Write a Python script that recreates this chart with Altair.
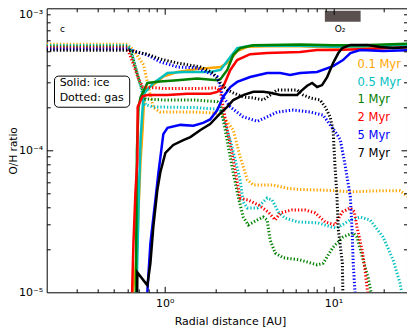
import altair as alt
import pandas as pd

# ---------------- data ----------------
times = ["0.1 Myr", "0.5 Myr", "1 Myr", "2 Myr", "5 Myr", "7 Myr"]
colors = ["#ffa500", "#00bfbf", "#008000", "#ff0000", "#0000ff", "#000000"]

# ice (solid lines)
ice_01_x = [0.64, 0.67, 0.69, 0.70, 0.72, 0.74, 0.76, 0.80, 0.86, 0.98, 1.19, 1.56, 2.0, 2.14, 2.35, 2.55, 2.69, 3.09, 4.05, 6.35, 10, 15, 20, 30]
ice_01_y = [9e-6, 1.4e-5, 2.2e-5, 3.8e-5, 8.5e-5, 1.4e-4, 2.6e-4, 2.75e-4, 2.9e-4, 3.3e-4, 3.56e-4, 3.74e-4, 3.83e-4, 3.86e-4, 4.12e-4, 4.6e-4, 5.0e-4, 5.35e-4, 5.4e-4, 5.4e-4, 5.3e-4, 5.35e-4, 5.4e-4, 5.5e-4]

ice_05_x = [0.68, 0.70, 0.72, 0.75, 0.86, 1.04, 1.29, 1.86, 2.14, 2.45, 2.69, 3.2, 4.0, 6.35, 10, 15, 20, 30]
ice_05_y = [9e-6, 4e-5, 1.2e-4, 2.5e-4, 2.98e-4, 3.5e-4, 3.56e-4, 3.56e-4, 3.68e-4, 4.54e-4, 5.25e-4, 5.45e-4, 5.45e-4, 5.45e-4, 5.35e-4, 5.4e-4, 5.45e-4, 5.5e-4]

ice_1_x = [0.675, 0.685, 0.70, 0.72, 0.79, 0.94, 1.19, 1.56, 2.05, 2.14, 2.35, 2.55, 2.8, 3.35, 6.35, 10, 15, 20, 30]
ice_1_y = [9e-6, 1e-4, 2.02e-4, 2.37e-4, 2.98e-4, 3.05e-4, 3.12e-4, 3.2e-4, 3.12e-4, 3.17e-4, 3.68e-4, 4.69e-4, 5.25e-4, 5.5e-4, 5.55e-4, 5.5e-4, 5.5e-4, 5.55e-4, 5.65e-4]

ice_2_x = [0.64, 0.653, 0.671, 0.689, 0.692, 0.74, 0.79, 1.04, 1.36, 1.86, 2.05, 2.22, 2.45, 2.69, 3.21, 4.05, 6.35, 8.0, 10, 15.9, 30]
ice_2_y = [9e-6, 2.2e-5, 5e-5, 8.55e-5, 2.02e-4, 2.4e-4, 2.45e-4, 2.45e-4, 2.5e-4, 2.5e-4, 2.58e-4, 2.79e-4, 3.68e-4, 4.32e-4, 4.75e-4, 4.84e-4, 4.92e-4, 5.09e-4, 5.09e-4, 5.16e-4, 5.34e-4]

ice_5_x = [0.785, 0.823, 0.881, 0.918, 0.982, 1.04, 1.24, 1.48, 1.69, 1.86, 2.05, 2.22, 2.45, 2.69, 3.21, 4.05, 4.84, 5.54, 6.35, 8.0, 9.96, 11.4, 12.6, 14.4, 19.7, 30]
ice_5_y = [9e-6, 2.2e-5, 4.46e-5, 6.9e-5, 1.3e-4, 1.44e-4, 1.51e-4, 1.49e-4, 1.56e-4, 1.65e-4, 1.92e-4, 2.37e-4, 2.79e-4, 3.03e-4, 3.28e-4, 3.5e-4, 3.5e-4, 3.39e-4, 3.5e-4, 3.56e-4, 3.92e-4, 4.32e-4, 4.84e-4, 5.09e-4, 5.0e-4, 5.09e-4]

ice_7_x = [0.687, 0.689, 0.79, 0.823, 0.857, 0.905, 0.943, 1.01, 1.125, 1.29, 1.42, 1.63, 1.86, 2.14, 2.35, 2.55, 2.92, 3.35, 3.84, 4.22, 4.84, 6.1, 6.35, 6.99, 7.48, 8.01, 8.57, 9.18, 9.96, 10.7, 11.3, 12.6, 15.9, 18.9, 22.6, 30]
ice_7_y = [9e-6, 1.38e-5, 1.12e-5, 1.6e-5, 2.9e-5, 5.25e-5, 7e-5, 9.6e-5, 1.09e-4, 1.18e-4, 1.24e-4, 1.39e-4, 1.53e-4, 1.83e-4, 2.02e-4, 2.26e-4, 2.45e-4, 2.58e-4, 2.58e-4, 2.54e-4, 2.45e-4, 2.45e-4, 2.58e-4, 2.85e-4, 2.98e-4, 2.79e-4, 2.88e-4, 3.28e-4, 4.12e-4, 4.84e-4, 5.25e-4, 5.52e-4, 5.52e-4, 5.34e-4, 5.25e-4, 5.34e-4]

# gas (dotted lines)
gas_01_x = [0.2, 0.6, 0.653, 0.75, 0.79, 0.857, 0.94, 1.5, 2.0, 2.2, 2.55, 2.8, 3.09, 3.35, 4.4, 5.3, 6.35, 8.3, 10, 12.6, 16, 20, 24.8, 28.4, 30]
gas_01_y = [5.58e-4, 5.58e-4, 5.1e-4, 4.0e-4, 3.0e-4, 2.0e-4, 1.86e-4, 1.86e-4, 1.83e-4, 1.75e-4, 1.39e-4, 9e-5, 6.2e-5, 5.7e-5, 5.7e-5, 5.4e-5, 5.3e-5, 5.25e-5, 5.2e-5, 5.1e-5, 5.15e-5, 5.2e-5, 5.2e-5, 4.6e-5, 4.25e-5]

gas_05_x = [0.2, 0.6, 0.63, 0.7, 0.77, 0.85, 1.5, 2.05, 2.14, 2.45, 2.8, 2.92, 3.09, 3.54, 4.05, 4.34, 4.71, 5.17, 6.17, 8.1, 9.8, 10.5, 12.6, 14.4, 16.5, 19.7, 22.6, 24.8, 25.8]
gas_05_y = [5.48e-4, 5.48e-4, 5.2e-4, 3.2e-4, 2.1e-4, 2.02e-4, 2.0e-4, 1.95e-4, 1.9e-4, 1.18e-4, 6.2e-5, 4.32e-5, 3.93e-5, 3.93e-5, 4.61e-5, 4.46e-5, 3.68e-5, 3.33e-5, 3.13e-5, 3.08e-5, 2.88e-5, 2.84e-5, 3.23e-5, 3.39e-5, 3.23e-5, 2.45e-5, 1.69e-5, 1.16e-5, 9e-6]

gas_1_x = [0.2, 0.6, 0.63, 0.7, 0.77, 1.0, 1.5, 2.05, 2.14, 2.55, 2.73, 2.92, 3.13, 3.54, 3.84, 4.05, 4.22, 4.52, 5.04, 6.35, 8.01, 8.69, 9.96, 11.4, 13.1, 13.8, 15.0, 16.1, 17.0]
gas_1_y = [5.37e-4, 5.37e-4, 5.0e-4, 3.2e-4, 2.3e-4, 2.26e-4, 2.26e-4, 2.2e-4, 2.1e-4, 6.92e-5, 4.69e-5, 3.39e-5, 2.98e-5, 3.23e-5, 3.39e-5, 3.23e-5, 2.33e-5, 1.89e-5, 1.75e-5, 1.69e-5, 1.56e-5, 1.6e-5, 2.08e-5, 2.45e-5, 2.62e-5, 2.45e-5, 1.69e-5, 1.25e-5, 9e-6]

gas_2_x = [0.2, 0.6, 0.64, 0.7, 0.74, 1.0, 1.5, 2.05, 2.14, 2.35, 2.5, 2.69, 2.8, 3.13, 3.6, 4.11, 4.52, 4.84, 5.66, 6.8, 7.8, 8.93, 10.2, 11.3, 12.6, 13.3, 13.8, 14.8, 15.4, 16.1]
gas_2_y = [5.27e-4, 5.27e-4, 4.3e-4, 3.2e-4, 2.8e-4, 2.72e-4, 2.72e-4, 2.75e-4, 2.58e-4, 1.39e-4, 9.8e-5, 6e-5, 4.6e-5, 4.46e-5, 4.12e-5, 3.68e-5, 3.23e-5, 3.62e-5, 3.8e-5, 3.8e-5, 3.62e-5, 3.13e-5, 2.98e-5, 3.68e-5, 3.93e-5, 3.7e-5, 2.88e-5, 1.98e-5, 1.44e-5, 9e-6]

gas_5_x = [0.2, 0.6, 0.79, 0.94, 1.19, 1.56, 2.05, 2.22, 2.45, 2.92, 3.54, 4.05, 4.64, 5.78, 7.28, 8.69, 9.56, 10.5, 11.0, 11.7, 12.6, 12.9, 13.1, 13.5]
gas_5_y = [5.17e-4, 5.17e-4, 4.69e-4, 4.2e-4, 3.86e-4, 3.8e-4, 3.3e-4, 2.37e-4, 2.02e-4, 1.72e-4, 1.6e-4, 1.72e-4, 1.86e-4, 1.92e-4, 1.86e-4, 1.77e-4, 1.51e-4, 1.3e-4, 1.18e-4, 8e-5, 4.7e-5, 2.75e-5, 1.61e-5, 9e-6]

gas_7_x = [0.2, 0.6, 0.79, 0.94, 1.19, 1.63, 1.94, 2.14, 2.35, 2.55, 2.92, 3.35, 3.84, 4.22, 4.64, 5.32, 6.1, 6.62, 7.28, 8.34, 8.93, 9.56, 9.96, 10.2, 10.5, 10.7, 11.3, 11.4]
gas_7_y = [5.07e-4, 5.07e-4, 4.75e-4, 4.4e-4, 4.12e-4, 3.86e-4, 3.5e-4, 2.98e-4, 2.66e-4, 2.54e-4, 2.37e-4, 2.34e-4, 2.26e-4, 2.45e-4, 2.66e-4, 2.66e-4, 2.66e-4, 2.45e-4, 2.34e-4, 2.26e-4, 2.02e-4, 1.72e-4, 1.39e-4, 8.1e-5, 4.7e-5, 2.75e-5, 1.61e-5, 9e-6]

ice_series = [(ice_01_x, ice_01_y), (ice_05_x, ice_05_y), (ice_1_x, ice_1_y),
              (ice_2_x, ice_2_y), (ice_5_x, ice_5_y), (ice_7_x, ice_7_y)]
gas_series = [(gas_01_x, gas_01_y), (gas_05_x, gas_05_y), (gas_1_x, gas_1_y),
              (gas_2_x, gas_2_y), (gas_5_x, gas_5_y), (gas_7_x, gas_7_y)]

# axis tick values
x_ticks = [0.3, 0.4, 0.5, 0.6, 0.7, 0.8, 0.9, 1, 2, 3, 4, 5, 6, 7, 8, 9, 10, 20]
y_ticks = [2e-5, 3e-5, 4e-5, 5e-5, 6e-5, 7e-5, 8e-5, 9e-5, 1e-4,
           2e-4, 3e-4, 4e-4, 5e-4, 6e-4, 7e-4, 8e-4, 9e-4]

# annotations (data coordinates)
legend_x = 13.9
legend_y = [3.99e-4, 2.99e-4, 2.26e-4, 1.68e-4, 1.26e-4, 9.42e-5]
box_lines = ["Solid: ice", "Dotted: gas"]
box_line_y = [2.96e-4, 2.34e-4]
o2_band = [8.9, 14.5]

# ---------------- chart ----------------
W, H = 360.3, 284
FONT = "DejaVu Sans"
xs = alt.Scale(type="log", domain=[0.2, 27.3], nice=False)
ys = alt.Scale(type="log", domain=[1e-5, 1e-3], nice=False)

layers = []
for t, c, (ix, iy), (gx, gy) in zip(times, colors, ice_series, gas_series):
    for kind, sx, sy in (("ice", ix, iy), ("gas", gx, gy)):
        d = pd.DataFrame({"x": sx, "y": sy, "i": range(len(sx))})
        style = dict(clip=True, color=c, strokeWidth=2.5)
        if kind == "gas":
            style.update(strokeWidth=3, strokeDash=[1.3, 2])
        layers.append(
            alt.Chart(d).mark_line(**style).encode(
                x=alt.X("x:Q", scale=xs, axis=None),
                y=alt.Y("y:Q", scale=ys, axis=None),
                order="i:Q",
            )
        )

# O2 band
o2 = pd.DataFrame({"x": [o2_band[0]], "x2": [o2_band[1]], "y": [9.62e-4], "y2": [8.04e-4]})
layers.append(alt.Chart(o2).mark_rect(color="#5b5050").encode(
    x=alt.X("x:Q", scale=xs, axis=None), x2="x2", y=alt.Y("y:Q", scale=ys, axis=None), y2="y2"))
layers.append(alt.Chart(pd.DataFrame({"x": [10.96], "y": [7.15e-4], "t": ["O₂"]})).mark_text(
    fontSize=9, font=FONT, color="black", align="center", baseline="middle").encode(
    x=alt.X("x:Q", scale=xs, axis=None), y=alt.Y("y:Q", scale=ys, axis=None), text="t"))

# panel letter
layers.append(alt.Chart(pd.DataFrame({"x": [0.2396], "y": [7.11e-4], "t": ["c"]})).mark_text(
    fontSize=9, font=FONT, color="black", align="left", baseline="middle").encode(
    x=alt.X("x:Q", scale=xs, axis=None), y=alt.Y("y:Q", scale=ys, axis=None), text="t"))

# box legend
box = pd.DataFrame({"x": [0.2225], "x2": [0.6206], "y": [3.33e-4], "y2": [2.01e-4]})
layers.append(alt.Chart(box).mark_rect(fill="white", stroke="black", strokeWidth=1, cornerRadius=4).encode(
    x=alt.X("x:Q", scale=xs, axis=None), x2="x2", y=alt.Y("y:Q", scale=ys, axis=None), y2="y2"))
layers.append(alt.Chart(pd.DataFrame({"x": [0.2386] * 2, "y": box_line_y, "t": box_lines})).mark_text(
    fontSize=11, font=FONT, color="black", align="left", baseline="middle").encode(
    x=alt.X("x:Q", scale=xs, axis=None), y=alt.Y("y:Q", scale=ys, axis=None), text="t"))

# time legend
leg = pd.DataFrame({"x": [legend_x] * len(times), "y": legend_y, "t": times})
layers.append(alt.Chart(leg).mark_text(fontSize=11.5, font=FONT, align="left", baseline="middle").encode(
    x=alt.X("x:Q", scale=xs, axis=None), y=alt.Y("y:Q", scale=ys, axis=None), text="t",
    color=alt.Color("t:N", scale=alt.Scale(domain=times, range=colors), legend=None)))

# axes
major = "abs(log(datum.value)/LN10 - round(log(datum.value)/LN10)) < 0.01"
tick_size = {"condition": {"test": major, "value": 6}, "value": 3.5}


def tick_axis(orient, offset, values):
    return alt.Axis(orient=orient, offset=offset, values=values, labels=False, domain=False,
                    grid=False, ticks=True, tickColor="black", tickWidth=1, tickSize=tick_size,
                    title=None, zindex=2)


x_label_axis = alt.Axis(orient="bottom", values=[1, 10], ticks=False, domain=False, grid=False,
                        labelExpr="datum.value < 5 ? '10⁰' : '10¹'", labelFontSize=11, labelFont=FONT,
                        labelPadding=5, labelFlush=False, labelColor="black",
                        title="Radial distance [AU]", titleFontSize=11, titleFont=FONT,
                        titleFontWeight="normal", titleColor="black", titleY=23, titleBaseline="top",
                        titleX=183.3)
y_label_axis = alt.Axis(orient="left", values=[1e-5, 1e-4, 1e-3], ticks=False, domain=False, grid=False,
                        labelExpr="datum.value < 3e-5 ? '10⁻⁵' : datum.value < 3e-4 ? '10⁻⁴' : '10⁻³'",
                        labelBaseline={"condition": {"test": "datum.value > 5e-4", "value": "top"}, "value": "middle"},
                        labelFontSize=11, labelFont=FONT, labelPadding=4, labelFlush=False, labelColor="black",
                        title="O/H ratio", titleFontSize=10.5, titleFont=FONT, titleFontWeight="normal",
                        titleColor="black", titleX=-38, titleBaseline="top")

ad = pd.DataFrame({"x": [1.0], "y": [1e-4]})
layers.append(alt.Chart(ad).mark_point(opacity=0).encode(
    x=alt.X("x:Q", scale=xs, axis=x_label_axis), y=alt.Y("y:Q", scale=ys, axis=y_label_axis)))
layers.append(alt.Chart(ad).mark_point(opacity=0).encode(
    x=alt.X("x:Q", scale=xs, axis=tick_axis("top", -H, x_ticks)),
    y=alt.Y("y:Q", scale=ys, axis=tick_axis("right", -W, y_ticks))))
layers.append(alt.Chart(ad).mark_point(opacity=0).encode(
    x=alt.X("x:Q", scale=xs, axis=tick_axis("bottom", -H, x_ticks)),
    y=alt.Y("y:Q", scale=ys, axis=tick_axis("left", -W, y_ticks))))

chart = alt.layer(*layers).resolve_axis(x="independent", y="independent").properties(
    width=W, height=H,
    padding={"left": 38.7, "top": 0.3, "right": 0, "bottom": 36},
    autosize=alt.AutoSizeParams(type="none"),
).configure(font=FONT).configure_view(stroke="black", strokeWidth=1)

chart.save("out.html", embed_options={"renderer": "svg", "actions": False})
